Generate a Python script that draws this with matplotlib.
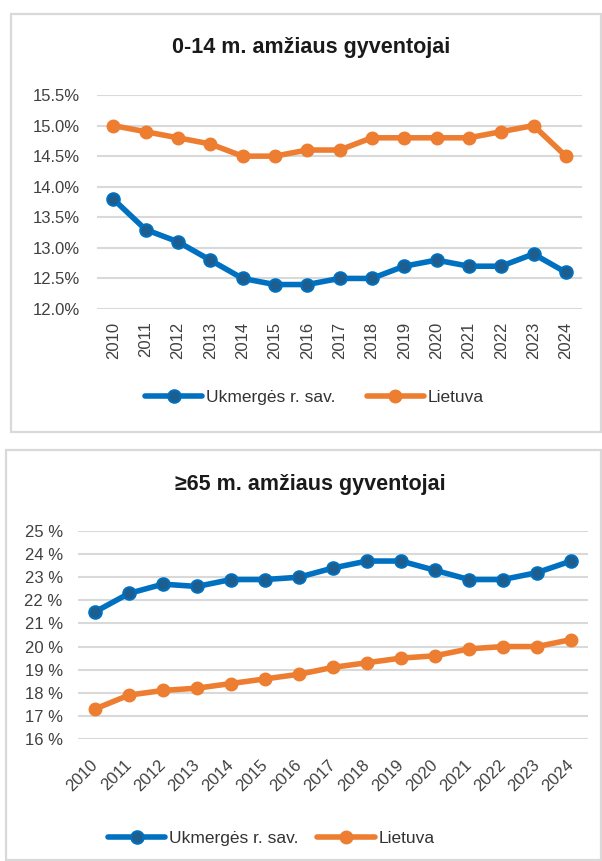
import matplotlib.pyplot as plt
from matplotlib.patches import Rectangle
from matplotlib.ticker import FuncFormatter

# Data
years = ['2010', '2011', '2012', '2013', '2014', '2015', '2016', '2017',
         '2018', '2019', '2020', '2021', '2022', '2023', '2024']

kids_ukm = [13.8, 13.3, 13.1, 12.8, 12.5, 12.4, 12.4, 12.5, 12.5, 12.7, 12.8, 12.7, 12.7, 12.9, 12.6]
kids_lt = [15.0, 14.9, 14.8, 14.7, 14.5, 14.5, 14.6, 14.6, 14.8, 14.8, 14.8, 14.8, 14.9, 15.0, 14.5]

old_ukm = [21.5, 22.3, 22.7, 22.6, 22.9, 22.9, 23.0, 23.4, 23.7, 23.7, 23.3, 22.9, 22.9, 23.2, 23.7]
old_lt = [17.3, 17.9, 18.1, 18.2, 18.4, 18.6, 18.8, 19.1, 19.3, 19.5, 19.6, 19.9, 20.0, 20.0, 20.3]

labels = ['Ukmergės r. sav.', 'Lietuva']

BLUE = '#0070C0'
BLUE_MK = '#1D5E8E'
ORANGE = '#ED7D31'
GRID = '#D9D9D9'
TXT = '#404040'

plt.rcParams['font.family'] = ['Liberation Sans', 'DejaVu Sans']

fig = plt.figure(figsize=(6.02, 8.61), dpi=100)
W, H = 602, 861

# chart borders (pixel coords -> figure fraction)
def box(x0, y0, x1, y1):
    r = Rectangle((x0 / W, 1 - y1 / H), (x1 - x0) / W, (y1 - y0) / H,
                  transform=fig.transFigure, fill=False, edgecolor=GRID, lw=1.6)
    fig.add_artist(r)

box(11, 14, 601, 432)
box(6, 450, 601, 860)


def draw(ax, ukm, lt, ylim, step, fmt, ypad, xpad):
    x = range(len(years))
    ax.plot(x, ukm, color=BLUE, lw=4, marker='o', ms=9,
            mfc=BLUE_MK, mec=BLUE, mew=1.5, label=labels[0], solid_capstyle='round')
    ax.plot(x, lt, color=ORANGE, lw=4, marker='o', ms=9,
            mfc=ORANGE, mec=ORANGE, label=labels[1], solid_capstyle='round')
    ax.set_xlim(-0.5, len(years) - 0.5)
    ax.set_ylim(*ylim)
    ticks = []
    v = ylim[0]
    while v <= ylim[1] + 1e-9:
        ticks.append(v)
        v += step
    ax.set_yticks(ticks)
    ax.yaxis.set_major_formatter(FuncFormatter(fmt))
    ax.set_xticks(list(x))
    ax.grid(axis='y', color=GRID, lw=1.5)
    ax.set_axisbelow(True)
    for s in ax.spines.values():
        s.set_visible(False)
    ax.tick_params(length=0, labelsize=12, labelcolor=TXT)
    ax.tick_params(axis='y', pad=ypad)
    ax.tick_params(axis='x', pad=xpad)


def legend(ax, x0, yc, spacing):
    ax.legend(loc='center left', bbox_to_anchor=(x0 / W, 1 - yc / H), bbox_transform=fig.transFigure,
              ncol=2, frameon=False, fontsize=12.5, handlelength=3.3, handletextpad=0.2,
              columnspacing=spacing, borderpad=0, borderaxespad=0, labelcolor='#333333')


# 0-14 chart
ax1 = fig.add_axes([97 / W, 1 - 309 / H, 485 / W, 214 / H])
draw(ax1, kids_ukm, kids_lt, (12.0, 15.5), 0.5, lambda v, p: f'{v:.1f}%', 12, 9)
ax1.set_xticklabels(years, rotation=90)
fig.text(311 / W, 1 - 48 / H, '0-14 m. amžiaus gyventojai', ha='center', va='center',
         fontsize=15.5, fontweight='bold', color='#1a1a1a')
legend(ax1, 145, 397, 1.8)

# >=65 chart
ax2 = fig.add_axes([78 / W, 1 - 739 / H, 510 / W, 208 / H])
draw(ax2, old_ukm, old_lt, (16, 25), 1, lambda v, p: f'{v:.0f} %', 11, 17)
ax2.set_xticklabels(years, rotation=45, ha='right', va='center', rotation_mode='anchor')
fig.text(310 / W, 1 - 484 / H, '≥65 m. amžiaus gyventojai', ha='center', va='center',
         fontsize=15.5, fontweight='bold', color='#1a1a1a')
legend(ax2, 108, 838, 1.1)

fig.savefig('out.png', dpi=100)
